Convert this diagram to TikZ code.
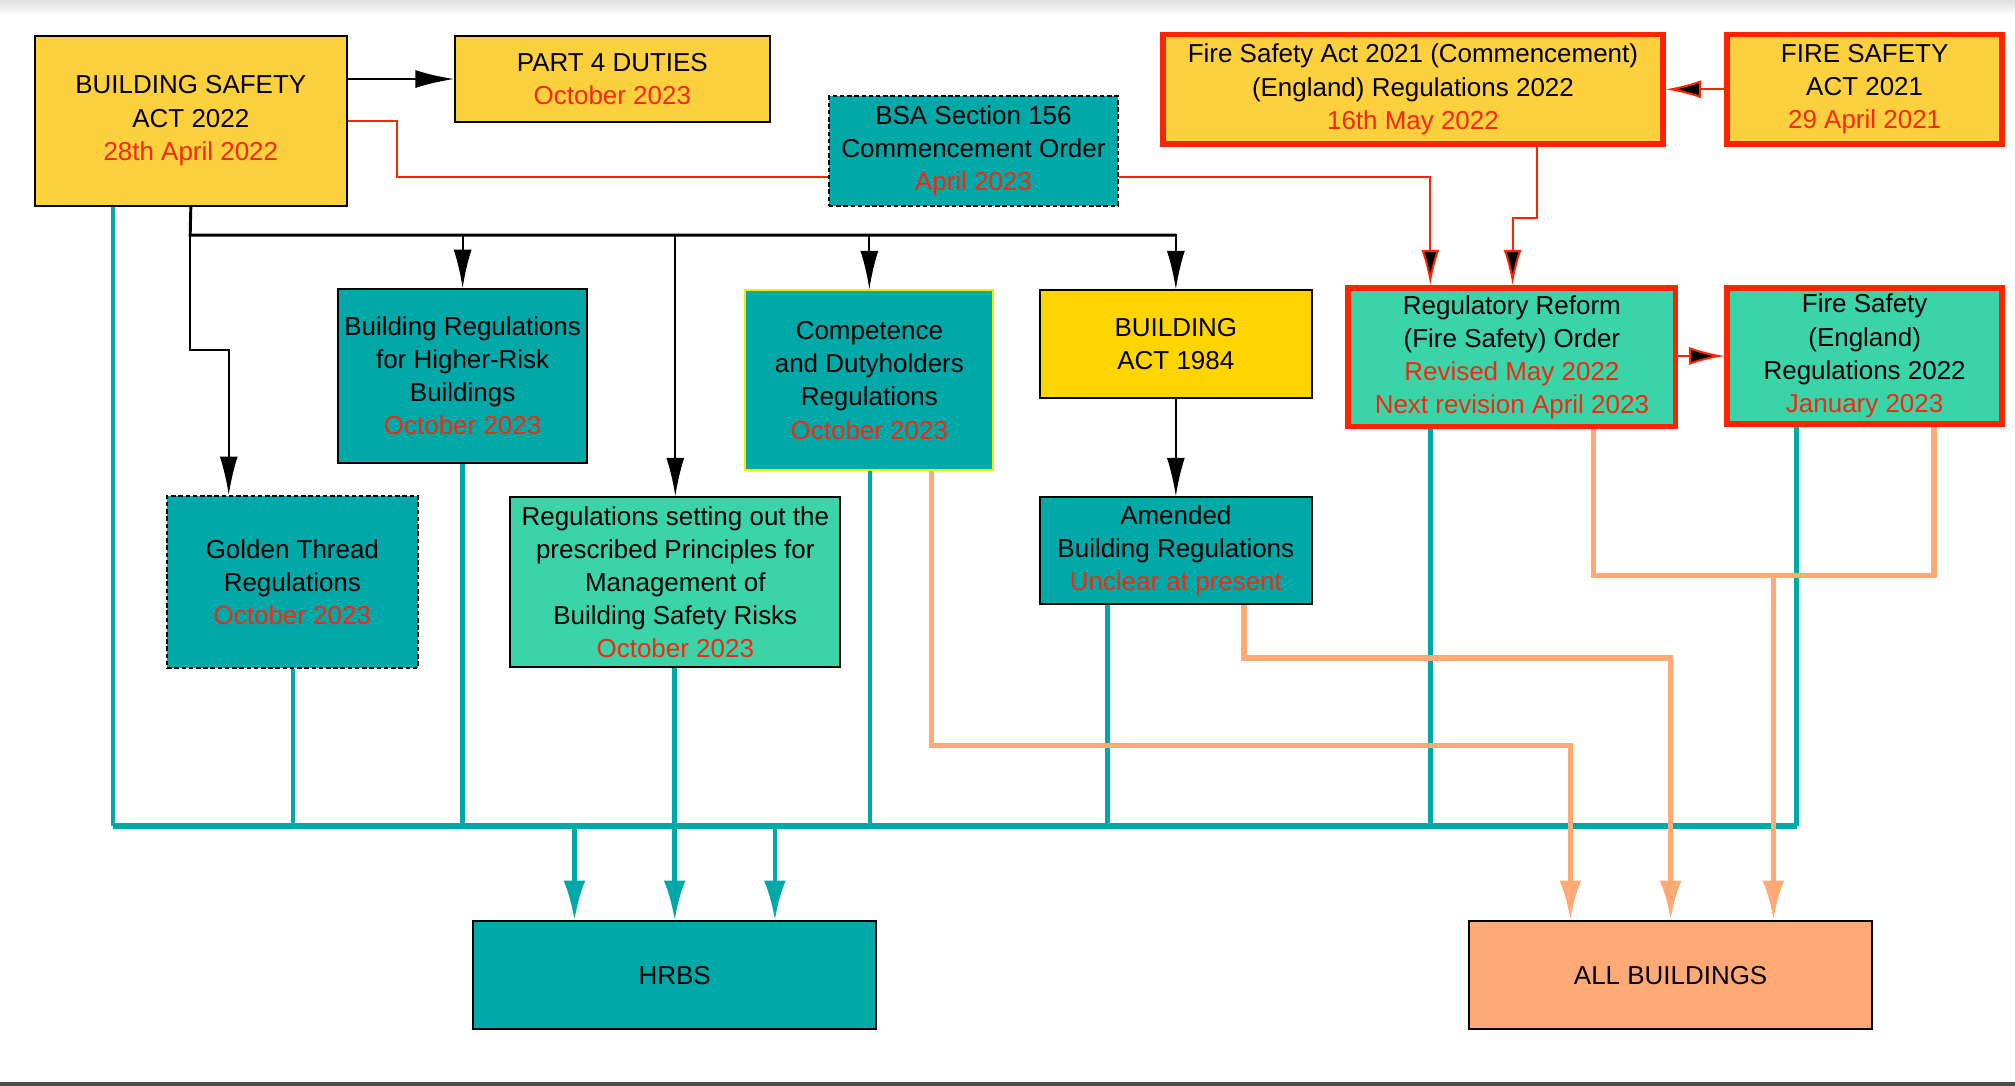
\documentclass[tikz,border=0pt]{standalone}
\usepackage{fontspec}
\setmainfont{Liberation Sans}
\usetikzlibrary{arrows.meta}
\definecolor{boxyellow}{RGB}{253,209,62}
\definecolor{actyellow}{RGB}{255,213,0}
\definecolor{hrteal}{RGB}{0,168,168}
\definecolor{mint}{RGB}{58,212,168}
\definecolor{salmon}{RGB}{255,170,118}
\definecolor{firered}{RGB}{255,36,0}
\definecolor{datered}{RGB}{245,40,15}
\newcommand{\when}[1]{\textcolor{datered}{#1}}

\begin{document}
\begin{tikzpicture}[x=0.02cm,y=-0.02cm,
    box/.style={draw=black,line width=0.9pt,rectangle,align=center,inner sep=0pt,
      font=\fontsize{11.5}{14.7}\selectfont},
    firebox/.style={box,draw=firered,line width=2.4pt},
    dashbox/.style={box,dash pattern=on 2pt off 1.2pt},
    blk/.style={black,line width=0.9pt},
    blkarrow/.style={blk,-{Latex[length=0.6cm,width=0.28cm]}},
    redl/.style={firered,line width=0.9pt},
    redarrow/.style={redl,-{Latex[length=0.55cm,width=0.28cm,fill=black]}},
    tealv/.style={hrteal,line width=2pt},
    tealarrow/.style={tealv,-{Latex[length=0.62cm,width=0.34cm]}},
    salm/.style={salmon,line width=2.3pt},
    salmarrow/.style={salm,-{Latex[length=0.62cm,width=0.34cm]}}]
            \useasboundingbox (0,0) rectangle (1568,845);
            \shade[top color=black!12,bottom color=white] (0,0) rectangle (1568,12);
            \fill[black!70] (0,842) rectangle (1568,845);

            \node[box,fill=boxyellow,minimum width=4.86cm,minimum height=2.64cm] (bsa) at (148.5,94) {BUILDING SAFETY\\ACT 2022\\\when{28th April 2022}};
            \node[box,fill=boxyellow,minimum width=4.9cm,minimum height=1.34cm] (part4) at (476.5,61.5) {PART 4 DUTIES\\\when{October 2023}};
            \node[dashbox,fill=hrteal,minimum width=4.5cm,minimum height=1.7cm] (s156) at (757.5,117.5) {BSA Section 156\\Commencement Order\\\when{April 2023}};
            \node[firebox,fill=boxyellow,minimum width=7.78cm,minimum height=1.7cm] (fsreg) at (1099.5,69.5) {Fire Safety Act 2021 (Commencement)\\(England) Regulations 2022\\\when{16th May 2022}};
            \node[firebox,fill=boxyellow,minimum width=4.28cm,minimum height=1.7cm] (fsa) at (1451,69.5) {FIRE SAFETY\\ACT 2021\\\when{29 April 2021}};

            \node[box,fill=hrteal,minimum width=3.88cm,minimum height=2.7cm] (brhrb) at (360,292.5) {Building Regulations\\for Higher-Risk\\Buildings\\\when{October 2023}};
            \node[box,draw={rgb,255:red,235;green,240;blue,0},fill=hrteal,minimum width=3.86cm,minimum height=2.8cm] (cdr) at (676.5,296) {Competence\\and Dutyholders\\Regulations\\\when{October 2023}};
            \node[box,fill=actyellow,minimum width=4.24cm,minimum height=1.68cm] (ba84) at (915,268) {BUILDING\\ACT 1984};
            \node[firebox,fill=mint,minimum width=5.1cm,minimum height=2.16cm] (rrfso) at (1176.5,278) {Regulatory Reform\\(Fire Safety) Order\\\when{Revised May 2022}\\\when{Next revision April 2023}};
            \node[firebox,fill=mint,minimum width=4.28cm,minimum height=2.12cm] (fser) at (1451,277) {Fire Safety\\(England)\\Regulations 2022\\\when{January 2023}};

            \node[dashbox,fill=hrteal,minimum width=3.9cm,minimum height=2.68cm] (gtr) at (227.5,453) {Golden Thread\\Regulations\\\when{October 2023}};
            \node[box,fill=mint,minimum width=5.14cm,minimum height=2.64cm] (pmbsr) at (525.5,453) {Regulations setting out the\\prescribed Principles for\\Management of\\Building Safety Risks\\\when{October 2023}};
            \node[box,fill=hrteal,minimum width=4.24cm,minimum height=1.66cm] (abr) at (915,428.5) {Amended\\Building Regulations\\\when{Unclear at present}};

            \node[box,fill=hrteal,minimum width=6.28cm,minimum height=1.68cm] (hrbs) at (525,759) {HRBS};
            \node[box,fill=salmon,minimum width=6.28cm,minimum height=1.68cm] (allb) at (1300,759) {ALL BUILDINGS};

            \coordinate (split) at (148,183);
            \coordinate (gtjog) at (178,272);
            \draw[blkarrow] (bsa.east |- part4.west) -- (part4.west);
            \draw[blk,line width=1.3pt] (bsa.south) -- (split) -- (split -| ba84.north);
            \draw[blkarrow] (split) -| (brhrb.north);
            \draw[blkarrow] (split) -| (pmbsr.north);
            \draw[blkarrow] (split) -| (cdr.north);
            \draw[blkarrow] (split) -| (ba84.north);
            \draw[blkarrow] (split) |- (gtjog) -- (gtr.north -| gtjog);
            \draw[blkarrow] (ba84.south) -- (abr.north);

            \draw[redl] (bsa.east) -| (309,138) -- (s156.west |- 0,138);
            \draw[redarrow] (s156.east |- 0,138) -| (rrfso.north -| 1113,0);
            \draw[redarrow] (fsreg.south -| 1196,0) |- (1177,170) -- (rrfso.north -| 1177,0);
            \draw[redarrow] (fsa.west) -- (fsreg.east);
            \draw[redarrow] (rrfso.east |- fser.west) -- (fser.west);

            \coordinate (busL) at (88,643);
            \coordinate (busR) at (1398,643);
            \foreach \n/\x in {bsa/88,gtr/228,brhrb/360,pmbsr/525,cdr/677,abr/862,rrfso/1113,fser/1398}
              \draw[tealv] (\n.south -| \x,0) -- (\x,643);
            \draw[hrteal,line width=2.8pt] (busL) -- (busR);
            \foreach \x in {447,525,603}
              \draw[tealarrow] (\x,643) -- (hrbs.north -| \x,0);

            \coordinate (fsjoin) at (1380,448);
            \draw[salmarrow] (cdr.south -| 725,0) |- (1222,580) -- (allb.north -| 1222,0);
            \draw[salmarrow] (abr.south -| 968,0) |- (1300,512) -- (allb.north);
            \draw[salm] (rrfso.south -| 1240,0) |- (fsjoin) -| (fser.south -| 1505,0);
            \draw[salmarrow] (fsjoin) -- (allb.north -| fsjoin);
\end{tikzpicture}
\end{document}
